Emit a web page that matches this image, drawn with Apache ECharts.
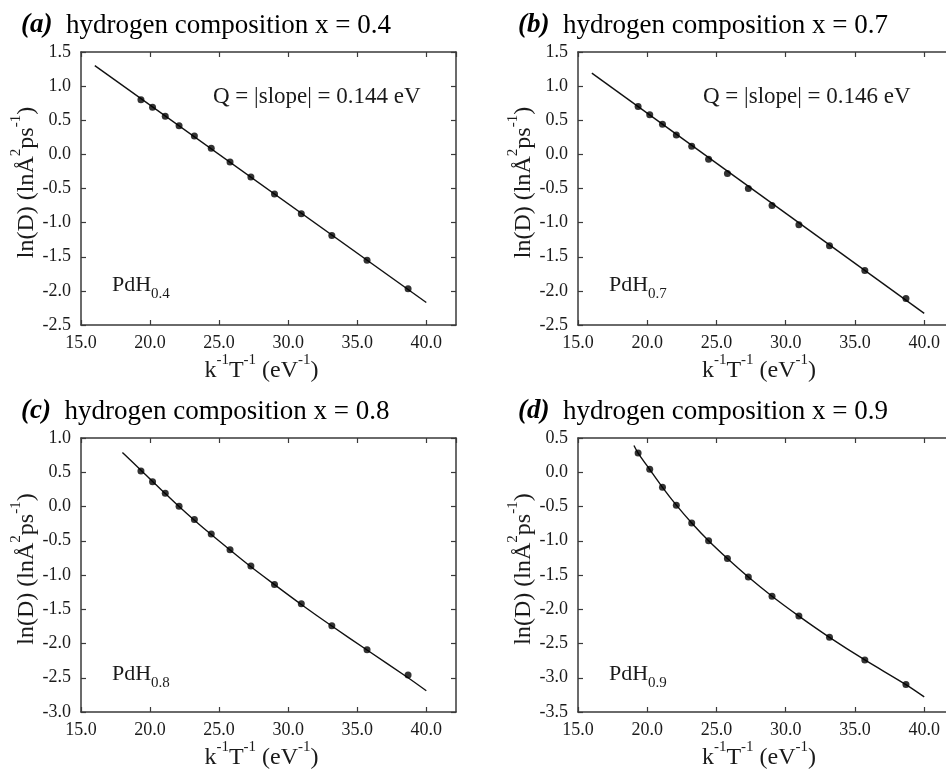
<!DOCTYPE html>
<html>
<head>
<meta charset="utf-8">
<script src="https://cdn.jsdelivr.net/npm/echarts@6/dist/echarts.min.js"></script>
<style>
html,body{margin:0;padding:0;background:#fff;}
#chart{width:946px;height:769px;}
</style>
</head>
<body>
<div id="chart"></div>
<script>
// x values: k^-1 T^-1 (eV^-1)
const xInvKT = [19.34, 20.18, 21.10, 22.10, 23.21, 24.43, 25.79, 27.30, 29.01, 30.95, 33.16, 35.71, 38.68];
// ln(D) data points
const yA = [0.80, 0.69, 0.56, 0.42, 0.27, 0.09, -0.11, -0.33, -0.58, -0.87, -1.19, -1.55, -1.97];
const yB = [0.70, 0.58, 0.44, 0.285, 0.12, -0.07, -0.28, -0.50, -0.75, -1.03, -1.34, -1.70, -2.11];
const yC = [0.52, 0.36, 0.195, 0.005, -0.19, -0.40, -0.63, -0.87, -1.14, -1.42, -1.74, -2.09, -2.46];
const yD = [0.28, 0.044, -0.22, -0.48, -0.74, -1.00, -1.26, -1.53, -1.81, -2.10, -2.41, -2.74, -3.10];
// fitted curves
const fitA = [[16.0, 1.30], [40.0, -2.17]];
const fitB = [[16.0, 1.19], [40.0, -2.33]];
const fitC = [[18.0, 0.79], [19.34, 0.53], [20.18, 0.365], [21.10, 0.19], [22.10, 0.0], [23.21, -0.20], [24.43, -0.41], [25.79, -0.635], [27.30, -0.88], [29.01, -1.14], [30.95, -1.43], [33.16, -1.745], [35.71, -2.095], [38.68, -2.50], [40.0, -2.69]];
const fitD = [[19.04, 0.39], [19.34, 0.28], [20.18, 0.04], [21.10, -0.22], [22.10, -0.48], [23.21, -0.74], [24.43, -1.0], [25.79, -1.26], [27.30, -1.53], [29.01, -1.81], [30.95, -2.10], [33.16, -2.41], [35.71, -2.74], [38.68, -3.10], [40.0, -3.28]];
// axis settings
const xTicks = {min: 15, max: 42.15, interval: 5};
const yRanges = [[-2.5, 1.5], [-2.5, 1.5], [-3.0, 1.0], [-3.5, 0.5]];
const panelLetters = ['(a)', '(b)', '(c)', '(d)'];
const compositions = ['0.4', '0.7', '0.8', '0.9'];
const slopeTexts = ['Q = |slope| = 0.144 eV', 'Q = |slope| = 0.146 eV', null, null];

const ySeries = [yA, yB, yC, yD];
const fits = [fitA, fitB, fitC, fitD];

const FONT = '"Liberation Serif", "Times New Roman", "DejaVu Serif", serif';
const INK = '#1a1a1a';
const FRAME = '#3a3a3a';

const grids = [
  {left: 81, top: 52, width: 375, height: 273},
  {left: 578, top: 52, width: 376, height: 273},
  {left: 81, top: 438, width: 375, height: 274},
  {left: 578, top: 438, width: 376, height: 274}
];

const supRich = {
  n: {fontFamily: FONT, fontSize: 24, color: INK, lineHeight: 30, verticalAlign: 'bottom'},
  s: {fontFamily: FONT, fontSize: 15, color: INK, lineHeight: 30, verticalAlign: 'top'}
};

const option = {
  backgroundColor: '#fff',
  animation: false,
  grid: grids.map(g => Object.assign({containLabel: false, outerBoundsMode: 'none'}, g)),
  xAxis: [],
  yAxis: [],
  series: [],
  graphic: []
};

function fmt(v) {
  if (Math.abs(v / 0.5 - Math.round(v / 0.5)) > 1e-6) return '';
  return v.toFixed(1);
}

for (let i = 0; i < 4; i++) {
  const axisLine = {show: true, onZero: false, lineStyle: {color: FRAME, width: 1.5}};
  const tick = {show: true, inside: true, length: 5, lineStyle: {color: FRAME, width: 1.2}};
  option.xAxis.push({
    type: 'value', gridIndex: i, position: 'bottom',
    min: xTicks.min, max: xTicks.max, interval: xTicks.interval,
    axisLine: axisLine, axisTick: tick, splitLine: {show: false},
    axisLabel: {
      color: INK, fontFamily: FONT, fontSize: 18, margin: 9, showMaxLabel: false,
      formatter: v => (Math.abs(v % 5) < 1e-6 ? v.toFixed(1) : '')
    },
    name: '{n|k}{s|-1}{n|T}{s|-1}{n| (eV}{s|-1}{n|)}',
    nameLocation: 'middle', nameGap: 28,
    nameTextStyle: {rich: supRich, padding: [0, 14, 0, 0]}
  });
  option.xAxis.push({
    type: 'value', gridIndex: i, position: 'top',
    min: xTicks.min, max: xTicks.max, interval: xTicks.interval,
    axisLine: axisLine, axisTick: tick, splitLine: {show: false},
    axisLabel: {show: false}
  });
  option.yAxis.push({
    type: 'value', gridIndex: i, position: 'left',
    min: yRanges[i][0], max: yRanges[i][1], interval: 0.5,
    axisLine: axisLine, axisTick: tick, splitLine: {show: false},
    axisLabel: {color: INK, fontFamily: FONT, fontSize: 18, margin: 10, formatter: fmt},
    name: '{n|ln(D) (lnÅ}{s|2}{n|ps}{s|-1}{n|)}',
    nameLocation: 'middle', nameGap: 40,
    nameTextStyle: {rich: supRich, padding: [0, 0, 0, 12]}
  });
  option.yAxis.push({
    type: 'value', gridIndex: i, position: 'right',
    min: yRanges[i][0], max: yRanges[i][1], interval: 0.5,
    axisLine: axisLine, axisTick: tick, splitLine: {show: false},
    axisLabel: {show: false}
  });

  option.series.push({
    type: 'line', xAxisIndex: 2 * i, yAxisIndex: 2 * i,
    data: fits[i], smooth: fits[i].length > 2 ? 0.3 : false,
    showSymbol: false, symbol: 'none',
    lineStyle: {color: '#111', width: 1.4}, z: 2
  });
  option.series.push({
    type: 'scatter', xAxisIndex: 2 * i, yAxisIndex: 2 * i,
    data: xInvKT.map((x, k) => [x, ySeries[i][k]]),
    symbol: 'circle', symbolSize: 7,
    itemStyle: {color: '#000'}, z: 3
  });

  const g = grids[i];
  // panel title
  option.graphic.push({
    type: 'text', left: g.left - 60, top: g.top - 40,
    style: {
      text: '{b|' + panelLetters[i] + '}{n|  hydrogen composition x = ' + compositions[i] + '}',
      rich: {
        b: {fontFamily: FONT, fontSize: 27, fontWeight: 'bold', fontStyle: 'italic', fill: '#000'},
        n: {fontFamily: FONT, fontSize: 27, fill: '#000'}
      }
    }
  });
  // PdH label
  option.graphic.push({
    type: 'text', left: g.left + 31, top: g.top + 222 + (i >= 2 ? 3 : 0),
    style: {
      text: '{n|PdH}{s|' + compositions[i] + '}',
      rich: {
        n: {fontFamily: FONT, fontSize: 22, fill: INK, lineHeight: 28, verticalAlign: 'top'},
        s: {fontFamily: FONT, fontSize: 15, fill: INK, lineHeight: 28, verticalAlign: 'bottom'}
      }
    }
  });
  if (slopeTexts[i]) {
    option.graphic.push({
      type: 'text', left: g.left + 132 + (i === 1 ? -7 : 0), top: g.top + 33,
      style: {text: slopeTexts[i], font: '23px ' + FONT, fill: INK}
    });
  }
}

const chart = echarts.init(document.getElementById('chart'), null, {renderer: 'canvas'});
chart.setOption(option);
</script>
</body>
</html>
